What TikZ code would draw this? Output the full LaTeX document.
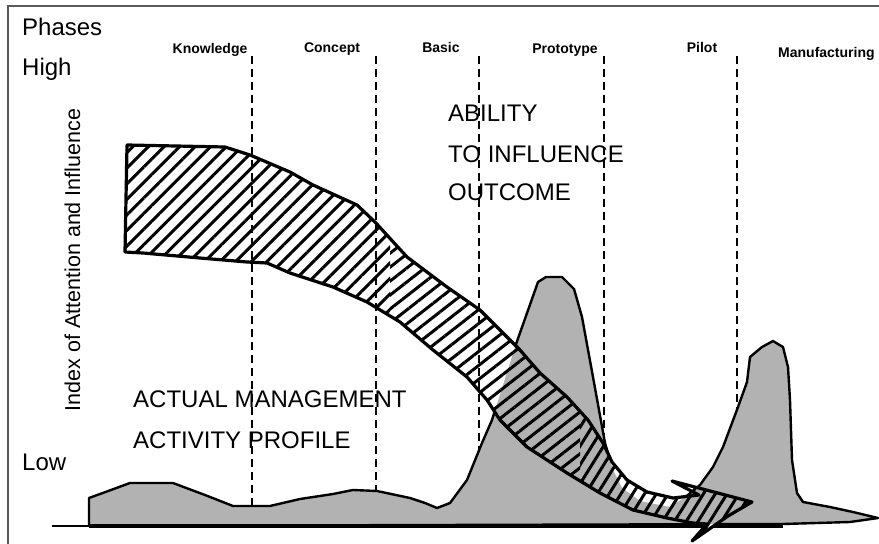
\documentclass[tikz,border=0pt]{standalone}
\usepackage{fontspec}
\setmainfont{Liberation Sans}
\usetikzlibrary{patterns.meta}
\definecolor{areagray}{RGB}{178,178,178}
\definecolor{framegray}{RGB}{90,90,90}
\tikzset{
  bigtxt/.style={font=\fontsize{24}{28}\selectfont, anchor=base west, inner sep=0pt},
  phasetxt/.style={font=\bfseries\fontsize{14}{16}\selectfont, anchor=base, inner sep=0pt},
  phaseline/.style={line width=2.2pt, dash pattern=on 8pt off 5pt},
  arealine/.style={line width=2.4pt, line join=round},
  bandline/.style={line width=3.2pt, line join=round},
  hatchA/.style={pattern={Lines[angle=45,distance=11pt,line width=3pt]}},
  hatchB/.style={pattern={Lines[angle=38,distance=11pt,line width=3pt]}},
  hatchC/.style={pattern={Lines[angle=58,distance=10pt,line width=3pt]}},
}
\def\grayarea{(89,526) -- (89,498) -- (100,494) -- (130,483) -- (173,483) -- (205,495) -- (233,506) -- (270,506) -- (300,499) -- (333,494) -- (353,490) -- (377,491) -- (410,498) -- (425,503) -- (437,508) -- (450,503) -- (467,480) -- (482,443) -- (492,420) -- (515,347) -- (538,282) -- (546,277) -- (562,277) -- (574,289) -- (582,317) -- (593,377) -- (605,443) -- (613,470) -- (622,488) -- (640,501) -- (670,507) -- (688,495) -- (700,485) -- (713,467) -- (723,447) -- (738,407) -- (747,382) -- (750,357) -- (762,347) -- (773,341) -- (783,347) -- (788,367) -- (790,400) -- (792,460) -- (797,493) -- (803,502) -- (830,507) -- (853,512) -- (878,518) -- (850,522) -- (783,524) -- cycle}
\def\bandpath{(127,145) -- (225,147) -- (250,155) -- (290,172) -- (313,185) -- (357,205) -- (375,222) -- (407,257) -- (447,287) -- (480,310) -- (520,350) -- (540,373) -- (567,397) -- (588,420) -- (603,443) -- (612,462) -- (627,480) -- (647,492) -- (673,498) -- (699,495) -- (672,481) -- (752,502) -- (728,516) -- (692,541) -- (707,524) -- (693,523) -- (667,518) -- (633,510) -- (600,493) -- (567,473) -- (527,447) -- (500,420) -- (487,400) -- (467,377) -- (433,350) -- (400,322) -- (367,302) -- (333,287) -- (290,273) -- (267,263) -- (247,262) -- (200,258) -- (143,253) -- (125,252) -- cycle}
\begin{document}
\begin{tikzpicture}[x=1pt,y=-1pt]
  \useasboundingbox (0,0) rectangle (879,544);
  \clip (0,0) rectangle (879,544);
  \fill[white] (0,0) rectangle (879,544);
  % frame
  \draw[framegray, line width=2pt] (8,544) -- (8,6) -- (879,6);
  % texts
  \node[bigtxt] (phases) at (22,35) {Phases};
  \node[bigtxt] (high) at (22,75) {High};
  \node[bigtxt] (low) at (22,470) {Low};
  \node[font=\fontsize{21.5}{24}\selectfont, rotate=90, anchor=base, inner sep=0pt] (ylabel) at (80,260) {Index of Attention and Influence};
  \node[phasetxt] (knowledge) at (210,53) {Knowledge};
  \node[phasetxt] (concept) at (332,52) {Concept};
  \node[phasetxt] (basic) at (441,52) {Basic};
  \node[phasetxt] (prototype) at (565,53) {Prototype};
  \node[phasetxt] (pilot) at (702,52) {Pilot};
  \node[phasetxt, anchor=base west] (manuf) at (778,57) {Manufacturing};
  \node[bigtxt] (ab1) at (448,121) {ABILITY};
  \node[bigtxt] (ab2) at (448,162) {TO INFLUENCE};
  \node[bigtxt] (ab3) at (448,200) {OUTCOME};
  \node[bigtxt] (am1) at (133,407) {ACTUAL MANAGEMENT};
  \node[bigtxt] (am2) at (133,448) {ACTIVITY PROFILE};
  % phase boundaries
  \foreach \xx in {252,376,479,604,737} {
    \draw[phaseline] (\xx,56) -- (\xx,520);
  }
  % activity profile
  \fill[areagray] \grayarea;
  \draw[arealine] \grayarea;
  \draw[line width=2pt] (52,526) -- (89,526);
  \draw[line width=4pt] (89,526) -- (783,526);
  % influence band
  \begin{scope}
    \clip \bandpath;
    \fill[white] (0,0) rectangle (879,544);
    \fill[areagray] \grayarea;
    \foreach \xx in {252,376,479} {
      \draw[phaseline] (\xx,56) -- (\xx,430);
    }
    \fill[hatchA] (0,0) rectangle (390,544);
    \fill[hatchB] (390,0) rectangle (580,544);
    \fill[hatchC] (580,0) rectangle (879,544);
  \end{scope}
  \draw[bandline] \bandpath;
\end{tikzpicture}
\end{document}
